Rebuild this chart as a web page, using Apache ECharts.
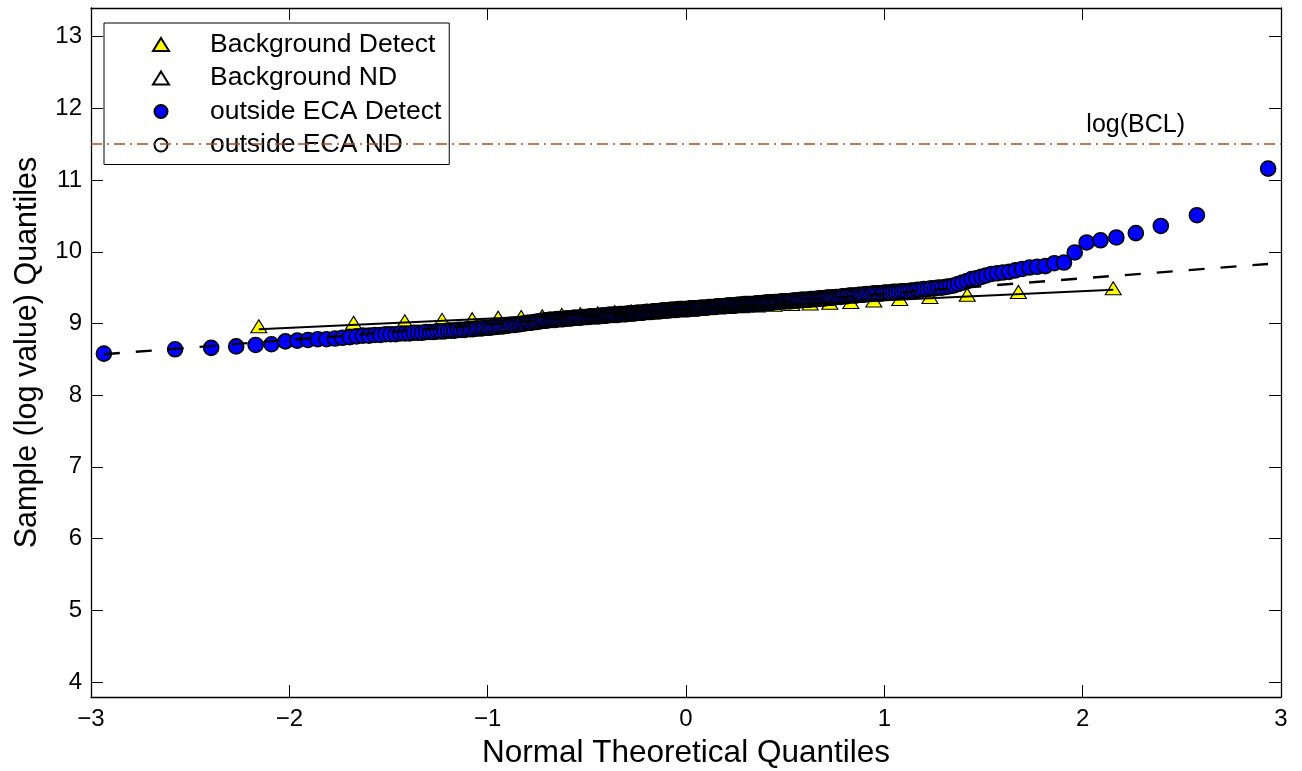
<!DOCTYPE html>
<html><head><meta charset="utf-8">
<script src="https://cdn.jsdelivr.net/npm/echarts@6/dist/echarts.min.js"></script>
<style>html,body{margin:0;padding:0;background:#fff}#c{width:1302px;height:771px}</style>
</head><body><div id="c"></div><script>
const xTicks=[-3,-2,-1,0,1,2,3];
const yTicks=[4,5,6,7,8,9,10,11,12,13];
const legendNames=['Background Detect','Background ND','outside ECA Detect','outside ECA ND'];

// Background Detect (theoretical quantile, sample log value)
const bgX=[-2.154,-1.676,-1.418,-1.230,-1.078,-0.947,-0.831,-0.725,-0.626,-0.533,-0.445,-0.360,-0.277,-0.197,-0.118,-0.039,
0.039,0.118,0.197,0.277,0.360,0.445,0.533,0.626,0.725,0.831,0.947,1.078,1.230,1.418,1.676,2.154];
const bgY=[8.96,9.01,9.03,9.05,9.06,9.08,9.09,9.10,9.12,9.13,9.14,9.16,9.17,9.18,9.19,9.20,
9.21,9.22,9.23,9.24,9.25,9.26,9.27,9.28,9.29,9.30,9.32,9.34,9.37,9.40,9.44,9.49];

// outside ECA Detect
const blueX=[-2.935,-2.576,-2.394,-2.268,-2.170,-2.090,-2.020,-1.960,-1.906,-1.857,
-1.812,-1.770,-1.732,-1.695,-1.661,-1.629,-1.598,-1.569,-1.541,-1.514,
-1.489,-1.464,-1.440,-1.417,-1.394,-1.372,-1.351,-1.331,-1.311,-1.291,
-1.272,-1.254,-1.236,-1.218,-1.200,-1.183,-1.167,-1.150,-1.134,-1.118,
-1.103,-1.088,-1.073,-1.058,-1.044,-1.029,-1.015,-1.001,-0.988,-0.974,
-0.961,-0.948,-0.935,-0.922,-0.909,-0.896,-0.884,-0.872,-0.860,-0.848,
-0.836,-0.824,-0.812,-0.800,-0.789,-0.778,-0.766,-0.755,-0.744,-0.733,
-0.722,-0.712,-0.701,-0.690,-0.680,-0.669,-0.659,-0.649,-0.638,-0.628,
-0.618,-0.608,-0.598,-0.588,-0.578,-0.568,-0.559,-0.549,-0.539,-0.530,
-0.520,-0.511,-0.501,-0.492,-0.483,-0.473,-0.464,-0.455,-0.446,-0.436,
-0.427,-0.418,-0.409,-0.400,-0.391,-0.383,-0.374,-0.365,-0.356,-0.345,
-0.336,-0.328,-0.319,-0.310,-0.302,-0.293,-0.285,-0.276,-0.267,-0.258,
-0.250,-0.241,-0.233,-0.224,-0.216,-0.207,-0.199,-0.190,-0.182,-0.173,
-0.165,-0.157,-0.148,-0.140,-0.131,-0.123,-0.115,-0.106,-0.098,-0.088,
-0.080,-0.071,-0.063,-0.054,-0.046,-0.038,-0.029,-0.021,-0.013,-0.004,
0.004,0.013,0.021,0.029,0.038,0.046,0.054,0.063,0.071,0.080,
0.088,0.098,0.106,0.115,0.123,0.131,0.140,0.148,0.157,0.165,
0.173,0.182,0.190,0.199,0.207,0.216,0.224,0.233,0.241,0.250,
0.258,0.267,0.276,0.285,0.293,0.302,0.310,0.319,0.328,0.336,
0.345,0.356,0.365,0.374,0.383,0.391,0.400,0.409,0.418,0.427,
0.436,0.446,0.455,0.464,0.473,0.483,0.492,0.501,0.511,0.520,
0.530,0.539,0.549,0.559,0.568,0.578,0.588,0.598,0.608,0.618,
0.628,0.638,0.649,0.659,0.669,0.680,0.690,0.701,0.712,0.722,
0.733,0.744,0.755,0.766,0.778,0.789,0.800,0.812,0.824,0.836,
0.848,0.860,0.872,0.884,0.896,0.909,0.922,0.935,0.948,0.961,
0.974,0.988,1.001,1.015,1.029,1.044,1.058,1.073,1.088,1.103,
1.118,1.134,1.150,1.167,1.183,1.200,1.218,1.236,1.254,1.272,
1.291,1.311,1.331,1.351,1.372,1.394,1.417,1.440,1.464,1.489,
1.514,1.541,1.569,1.598,1.629,1.661,1.695,1.732,1.770,1.812,
1.857,1.906,1.960,2.020,2.090,2.170,2.268,2.394,2.576,2.935];
const blueY=[8.58,8.64,8.66,8.68,8.70,8.71,8.75,8.76,8.77,8.78,
8.78,8.79,8.80,8.81,8.82,8.83,8.83,8.84,8.84,8.85,
8.85,8.85,8.86,8.86,8.86,8.87,8.87,8.87,8.88,8.88,
8.88,8.89,8.89,8.89,8.90,8.90,8.90,8.91,8.91,8.91,
8.92,8.92,8.92,8.93,8.93,8.93,8.94,8.94,8.94,8.95,
8.95,8.96,8.96,8.96,8.97,8.97,8.98,8.98,8.98,8.99,
8.99,9.00,9.00,9.01,9.01,9.01,9.02,9.02,9.03,9.03,
9.04,9.04,9.04,9.05,9.05,9.05,9.05,9.06,9.06,9.06,
9.06,9.07,9.07,9.07,9.07,9.08,9.08,9.08,9.08,9.08,
9.09,9.09,9.09,9.09,9.10,9.10,9.10,9.10,9.10,9.10,
9.11,9.11,9.11,9.11,9.12,9.12,9.12,9.12,9.12,9.12,
9.13,9.13,9.13,9.13,9.13,9.14,9.14,9.14,9.14,9.14,
9.15,9.15,9.15,9.15,9.15,9.16,9.16,9.16,9.16,9.16,
9.17,9.17,9.17,9.17,9.17,9.18,9.18,9.18,9.18,9.18,
9.19,9.19,9.19,9.19,9.19,9.20,9.20,9.20,9.20,9.20,
9.20,9.20,9.21,9.21,9.21,9.21,9.21,9.21,9.22,9.22,
9.22,9.22,9.22,9.23,9.23,9.23,9.23,9.23,9.24,9.24,
9.24,9.24,9.24,9.24,9.25,9.25,9.25,9.25,9.25,9.25,
9.26,9.26,9.26,9.26,9.27,9.27,9.27,9.27,9.27,9.27,
9.27,9.28,9.28,9.28,9.28,9.28,9.29,9.29,9.29,9.29,
9.29,9.30,9.30,9.30,9.30,9.31,9.31,9.31,9.31,9.31,
9.31,9.32,9.32,9.32,9.32,9.33,9.33,9.33,9.33,9.33,
9.34,9.34,9.34,9.34,9.35,9.35,9.35,9.35,9.36,9.36,
9.36,9.36,9.37,9.37,9.37,9.38,9.38,9.38,9.39,9.39,
9.39,9.39,9.40,9.40,9.40,9.41,9.41,9.41,9.42,9.42,
9.42,9.42,9.43,9.43,9.43,9.44,9.44,9.44,9.45,9.45,
9.45,9.46,9.46,9.47,9.47,9.48,9.48,9.49,9.49,9.50,
9.50,9.51,9.52,9.53,9.55,9.57,9.59,9.62,9.63,9.65,
9.67,9.69,9.70,9.71,9.72,9.74,9.76,9.78,9.79,9.80,
9.84,9.85,9.99,10.13,10.16,10.20,10.26,10.36,10.51,11.16];

// reference lines
const blueFitX=[-2.935,2.935], blueFitY=[8.57,9.83];
const bgFitX=[-2.154,2.154], bgFitY=[8.92,9.47];
const bclValue=11.513;
const bclLabel='log(BCL)';

const F='"Liberation Sans", Arial, Helvetica, sans-serif';
const zip=(a,b)=>a.map((v,i)=>[v,b[i]]);
const minus=v=>String(v).replace('-','\u2212');

const chart=echarts.init(document.getElementById('c'),null,{renderer:'canvas'});
const axisCommon={
  type:'value',
  axisLine:{show:true,onZero:false,lineStyle:{color:'#000',width:1.3}},
  splitLine:{show:false},
};
const tick={inside:true,length:12,lineStyle:{color:'#000',width:1}};
chart.setOption({
  animation:false,
  backgroundColor:'#fff',
  grid:{left:91,right:21,top:8,bottom:74,containLabel:false,outerBoundsMode:'none'},
  xAxis:[
    Object.assign({},axisCommon,{position:'bottom',min:-3,max:3,
      name:'Normal Theoretical Quantiles',nameLocation:'middle',nameGap:40,
      nameTextStyle:{fontSize:31.5,color:'#000',fontFamily:F},
      axisTick:Object.assign({customValues:xTicks},tick),
      axisLabel:{fontSize:24,color:'#000',fontFamily:F,margin:10,customValues:xTicks,formatter:minus}}),
    Object.assign({},axisCommon,{position:'top',min:-3,max:3,
      axisTick:Object.assign({customValues:xTicks},tick),
      axisLabel:{show:false}})
  ],
  yAxis:[
    Object.assign({},axisCommon,{position:'left',min:3.79,max:13.4,
      name:'Sample (log value) Quantiles',nameLocation:'middle',nameGap:48,nameRotate:90,
      nameTextStyle:{fontSize:30.5,color:'#000',fontFamily:F},
      axisTick:Object.assign({customValues:yTicks},tick),
      axisLabel:{fontSize:24,color:'#000',fontFamily:F,margin:9,customValues:yTicks}}),
    Object.assign({},axisCommon,{position:'right',min:3.79,max:13.4,
      axisTick:Object.assign({customValues:yTicks},tick),
      axisLabel:{show:false}})
  ],
  legend:{
    orient:'vertical',left:104,top:23,
    padding:[8,8,6,48],
    itemWidth:16,itemHeight:13,itemGap:6.5,
    backgroundColor:'#fff',borderColor:'#000',borderWidth:1,borderRadius:0,
    textStyle:{fontSize:26.5,color:'#000',fontFamily:F,lineHeight:26,padding:[0,0,0,36]},
    data:legendNames,selectedMode:false
  },
  series:[
    {name:legendNames[0],type:'scatter',symbol:'triangle',symbolSize:[16,13],z:2,
     itemStyle:{color:'#ffff00',borderColor:'#000',borderWidth:1.1,opacity:1},
     data:zip(bgX,bgY)},
    {name:legendNames[1],type:'scatter',symbol:'triangle',symbolSize:[16,13],z:2,
     itemStyle:{color:'#ffffff',borderColor:'#000',borderWidth:1,opacity:1},
     data:[]},
    {name:legendNames[2],type:'scatter',symbol:'circle',symbolSize:15,z:3,
     itemStyle:{color:'#0000ff',borderColor:'#000',borderWidth:1.6,opacity:1},
     data:zip(blueX,blueY)},
    {name:legendNames[3],type:'scatter',symbol:'circle',symbolSize:14,z:3,
     itemStyle:{color:'#ffffff',borderColor:'#000',borderWidth:1,opacity:1},
     data:[]},
    {name:'fitOutside',type:'line',symbol:'none',z:4,
     lineStyle:{color:'#000',width:2.4,type:[16,16]},
     data:zip(blueFitX,blueFitY)},
    {name:'fitBackground',type:'line',symbol:'none',z:4,
     lineStyle:{color:'#000',width:2,type:'solid'},
     data:zip(bgFitX,bgFitY),
     markLine:{symbol:['none','none'],silent:true,z:10,
       lineStyle:{color:'#b44a1c',width:1.5,type:[11,5,2,5],opacity:1},
       emphasis:{disabled:true},
       label:{show:true,position:'insideEndTop',formatter:bclLabel,fontSize:25,color:'#000',fontFamily:F,distance:[96,6]},
       data:[{yAxis:bclValue,lineStyle:{color:'#b44a1c'}}]}}
  ]
});
</script></body></html>
